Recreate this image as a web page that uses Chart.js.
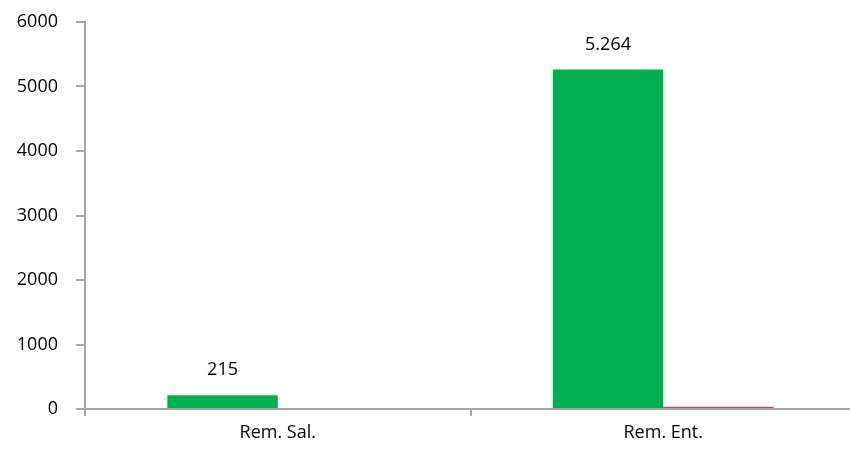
<!DOCTYPE html>
<html>
<head>
<meta charset="utf-8">
<script src="https://cdn.jsdelivr.net/npm/chart.js@4"></script>
<style>
  html, body { margin: 0; padding: 0; background: #fff; overflow: hidden; }
  #wrap { width: 856px; height: 452px; }
</style>
</head>
<body>
<div id="wrap"><canvas id="chart"></canvas></div>
<script>
const categories = ["Rem. Sal.", "Rem. Ent."];
const greenValues = [215, 5264];
const redValues = [0, 35];
const yTicks = [0, 1000, 2000, 3000, 4000, 5000, 6000];

const axisColor = "#a6a6a6";
const font = { family: "'Open Sans', 'Liberation Sans', sans-serif", size: 18 };

// draw value labels above the green bars
const valueLabels = {
    id: "valueLabels",
    afterDatasetsDraw(chart) {
        const ctx = chart.ctx;
        const meta = chart.getDatasetMeta(0);
        ctx.save();
        ctx.font = font.size + "px " + font.family;
        ctx.fillStyle = "#000";
        ctx.textAlign = "center";
        ctx.textBaseline = "middle";
        meta.data.forEach((bar, i) => {
            const txt = greenValues[i].toLocaleString("de-DE");
            ctx.fillText(txt, bar.x, bar.y - 25);
        });
        ctx.restore();
    }
};

new Chart(document.getElementById("chart"), {
    type: "bar",
    data: {
        labels: categories,
        datasets: [
            {
                label: "Serie 1",
                data: greenValues,
                backgroundColor: "#00b050",
                categoryPercentage: 0.573,
                barPercentage: 1.0,
            },
            {
                label: "Serie 2",
                data: redValues,
                backgroundColor: "#c0504d",
                categoryPercentage: 0.573,
                barPercentage: 1.0,
            },
        ],
    },
    options: {
        responsive: true,
        maintainAspectRatio: false,
        animation: false,
        layout: { padding: { top: 22, right: 0, left: 0, bottom: 0 } },
        plugins: {
            legend: { display: false },
            tooltip: { enabled: false },
        },
        scales: {
            x: {
                grid: {
                    drawOnChartArea: false,
                    tickLength: 7,
                    color: axisColor,
                    lineWidth: 2,
                },
                border: { color: axisColor, width: 2 },
                ticks: { color: "#000", font: font, padding: 6 },
                afterFit(scale) {
                    scale.height = 43;
                    scale.paddingLeft = 0;
                    scale.paddingRight = 0;
                },
            },
            y: {
                min: 0,
                max: 6000,
                afterBuildTicks(scale) {
                    scale.ticks = yTicks.map((v) => ({ value: v }));
                },
                grid: {
                    drawOnChartArea: false,
                    tickLength: 9,
                    color: axisColor,
                    lineWidth: 2,
                },
                border: { color: axisColor, width: 2 },
                ticks: {
                    color: "#000",
                    font: font,
                    padding: 18,
                    callback: (v) => String(v),
                },
                afterFit(scale) {
                    scale.width = 85;
                    scale.paddingTop = 0;
                    scale.paddingBottom = 0;
                },
            },
        },
    },
    plugins: [valueLabels],
});
</script>
</body>
</html>
